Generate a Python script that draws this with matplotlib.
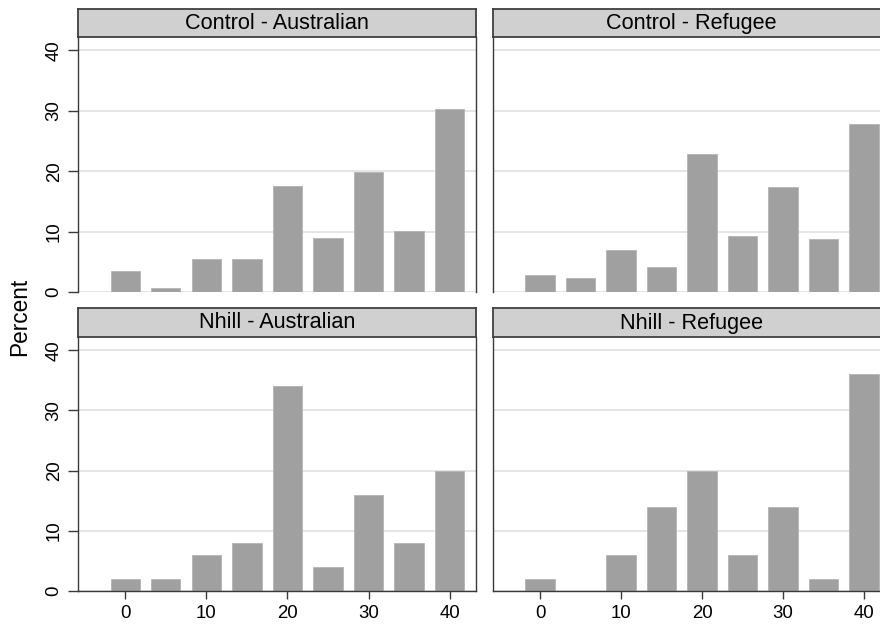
import matplotlib
matplotlib.use("Agg")
import matplotlib.pyplot as plt

plt.rcParams['font.family'] = ['Liberation Sans', 'DejaVu Sans']

# Histogram bins (bar centres) and percentages per panel
bins = [0, 5, 10, 15, 20, 25, 30, 35, 40]
control_australian = [3.5, 0.7, 5.5, 5.5, 17.5, 8.9, 19.9, 10.1, 30.3]
control_refugee = [2.8, 2.3, 6.9, 4.2, 22.9, 9.3, 17.3, 8.8, 27.8]
nhill_australian = [2, 2, 6, 8, 34, 4, 16, 8, 20]
nhill_refugee = [2, 0, 6, 14, 20, 6, 14, 2, 36]

titles = ["Control - Australian", "Control - Refugee",
          "Nhill - Australian", "Nhill - Refugee"]
series = [control_australian, control_refugee, nhill_australian, nhill_refugee]
y_ticks = [0, 10, 20, 30, 40]
x_ticks = [0, 10, 20, 30, 40]

W, H = 880, 625
fig = plt.figure(figsize=(W / 100, H / 100), dpi=100)
fig.patch.set_facecolor("white")


def rect(x0, y0, x1, y1):
    return [x0 / W, 1 - y1 / H, (x1 - x0) / W, (y1 - y0) / H]


spine_col = "#3a3a3a"
grid_col = "#e3e3e3"
bar_col = "#a0a0a0"
strip_col = "#d0d0d0"

cols = [(78, 475.5), (492.7, 890)]
rows = [(9, 37, 292), (308, 337, 591)]

for i, (title, vals) in enumerate(zip(titles, series)):
    r, c = divmod(i, 2)
    x0, x1 = cols[c]
    s0, p0, p1 = rows[r]

    ax = fig.add_axes(rect(x0, p0, x1, p1))
    ax.set_xlim(-5.84, 43.2)
    ax.set_ylim(0, 42.2)
    for gy in y_ticks:
        ax.axhline(gy, color=grid_col, lw=1.3, zorder=1)
    ax.bar(bins, vals, width=3.6, color=bar_col, edgecolor="#b4b4b4",
           linewidth=0.6, zorder=2)

    ax.spines["top"].set_visible(False)
    for side in ("left", "right"):
        ax.spines[side].set_color(spine_col)
        ax.spines[side].set_linewidth(1.0)
    if r == 1:
        ax.spines["bottom"].set_color(spine_col)
        ax.spines["bottom"].set_linewidth(1.0)
        ax.set_xticks(x_ticks)
        ax.tick_params(axis="x", length=6, width=1.0, color=spine_col,
                       labelsize=13.4, pad=4)
    else:
        ax.spines["bottom"].set_visible(False)
        ax.set_xticks([])
    if c == 0:
        ax.set_yticks(y_ticks)
        ax.set_yticklabels([str(v) for v in y_ticks], rotation=90, va="center")
        ax.tick_params(axis="y", length=7, width=1.0, color=spine_col,
                       labelsize=13.4, pad=4)
    else:
        ax.set_yticks([])

    sax = fig.add_axes(rect(x0, s0, x1, p0))
    sax.set_facecolor(strip_col)
    sax.set_xticks([])
    sax.set_yticks([])
    for sp in sax.spines.values():
        sp.set_color("#404040")
        sp.set_linewidth(1.3)
    strip_center = (x0 + min(x1, 890)) / 2
    fig.text(strip_center / W, 1 - ((s0 + p0) / 2 + 0.5) / H, title,
             ha="center", va="center", fontsize=15.6, color="black")

fig.text(20 / W, 1 - 317 / H, "Percent", rotation=90, ha="center",
         va="center", fontsize=16.3)

fig.savefig("out.png", dpi=100, facecolor="white")
